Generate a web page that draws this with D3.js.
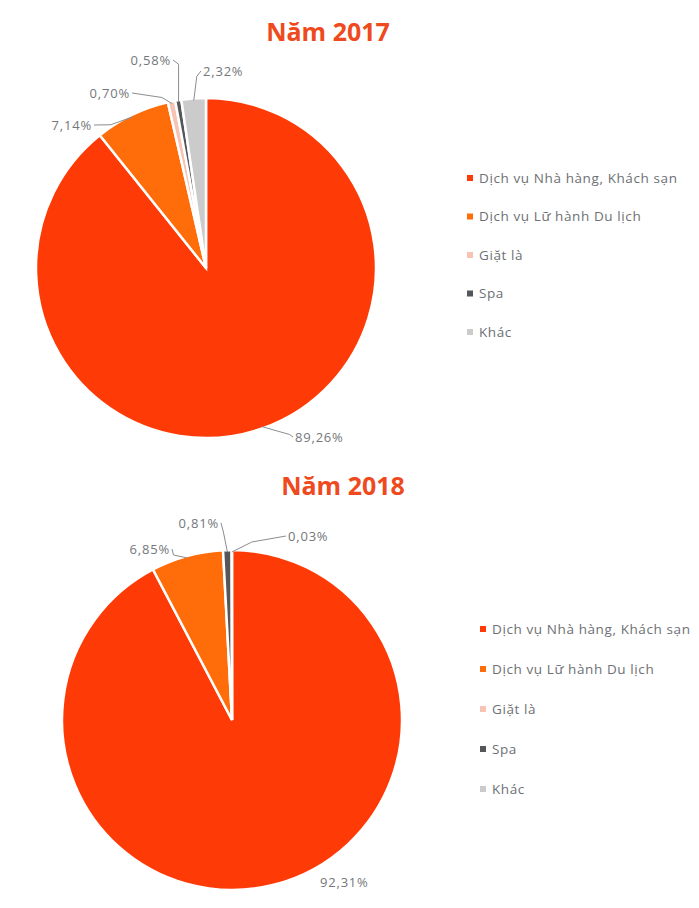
<!DOCTYPE html>
<html lang="vi">
<head>
<meta charset="UTF-8">
<title>Cơ cấu doanh thu</title>
<script src="https://cdn.jsdelivr.net/npm/d3@7"></script>
<style>
  body { margin: 0; background: #fff; }
  text { font-family: "Open Sans", sans-serif; }
</style>
</head>
<body>
<svg width="699" height="908" id="mainsvg" style="display:block"></svg>
<script>
const categories = ["Dịch vụ Nhà hàng, Khách sạn", "Dịch vụ Lữ hành Du lịch", "Giặt là", "Spa", "Khác"];
const values2017 = [89.26, 7.14, 0.70, 0.58, 2.32];
const values2018 = [92.31, 6.85, 0, 0.81, 0.03];
const titles = ["Năm 2017", "Năm 2018"];
const colors = ["#fe3a06", "#ff6c0a", "#f6c3b4", "#555659", "#cbcbcb"];

const svg = d3.select("#mainsvg");
const fmt = v => d3.format(".2f")(v).replace(".", ",") + "%";

// layout of each chart block
const charts = [
  {values: values2017, title: titles[0], cx: 206, cy: 268, r: 170, titleX: 328, titleY: 41,
   legendX: 470, legendY: 178, legendStep: 38.5,
   // label placement per slice: elbow offset from slice edge, text position, anchor
   labels: [
     {ex: 28, ey: 8, tx: 295, ty: 441, anchor: "start"},
     {ex: -22, ey: 8, tx: 92, ty: 129, anchor: "end"},
     {ex: -10, ey: -6, tx: 130, ty: 97, anchor: "end"},
     {ex: 0, ey: -38, tx: 171, ty: 64, anchor: "end"},
     {ex: 3, ey: -24, tx: 203, ty: 75, anchor: "start"}
   ]},
  {values: values2018, title: titles[1], cx: 232, cy: 720, r: 170, titleX: 343, titleY: 495,
   legendX: 483, legendY: 629, legendStep: 40,
   labels: [
     {ex: 0, ey: 0, tx: 320, ty: 886, anchor: "start"},
     {ex: -14, ey: -3, tx: 170, ty: 553, anchor: "end"},
     null,
     {ex: -4, ey: -20, tx: 219, ty: 527, anchor: "end"},
     {ex: 20, ey: -10, tx: 288, ty: 540, anchor: "start"}
   ]}
];

const pie = d3.pie().sort(null).value(d => d);

charts.forEach(c => {
  const g = svg.append("g").attr("transform", `translate(${c.cx},${c.cy})`);
  const arcs = pie(c.values);
  const arc = d3.arc().innerRadius(0).outerRadius(c.r);

  g.selectAll("path").data(arcs).join("path")
    .attr("d", arc)
    .attr("fill", (d, i) => colors[i])
    .attr("stroke", "#fff")
    .attr("stroke-width", d => d.value > 0 ? 2.5 : 0);

  // leader lines + labels
  arcs.forEach((d, i) => {
    const lab = c.labels[i];
    if (!lab || d.value <= 0) return;
    const mid = (d.startAngle + d.endAngle) / 2;
    const px = Math.sin(mid) * (c.r - 2);
    const py = -Math.cos(mid) * (c.r - 2);
    const ex = px + lab.ex, ey = py + lab.ey;
    const tx = lab.tx - c.cx, ty = lab.ty - c.cy - 4;
    const endX = lab.anchor === "end" ? tx + 2 : tx - 2;
    if (lab.ex !== 0 || lab.ey !== 0) {
      g.append("path")
        .attr("d", `M${px},${py}L${ex},${ey}L${endX},${ty}`)
        .attr("fill", "none")
        .attr("stroke", "#8a8d91")
        .attr("stroke-width", 1);
    }
    g.append("text")
      .attr("x", tx)
      .attr("y", ty + 4.5)
      .attr("text-anchor", lab.anchor)
      .attr("fill", "#74777b")
      .attr("font-size", 13)
      .attr("letter-spacing", 0.8)
      .text(fmt(d.value));
  });

  svg.append("text")
    .attr("x", c.titleX)
    .attr("y", c.titleY)
    .attr("text-anchor", "middle")
    .attr("fill", "#ee4a1d")
    .attr("font-size", 25)
    .attr("font-weight", "bold")
    .attr("font-family", "Lato, sans-serif")
    .text(c.title);

  const lg = svg.append("g").attr("transform", `translate(${c.legendX},${c.legendY})`);
  const items = lg.selectAll("g").data(categories).join("g")
    .attr("transform", (d, i) => `translate(0,${i * c.legendStep})`);
  items.append("rect")
    .attr("x", -3).attr("y", -3).attr("width", 6).attr("height", 6)
    .attr("fill", (d, i) => colors[i]);
  items.append("text")
    .attr("x", 9).attr("y", 4.5)
    .attr("fill", "#6d7074")
    .attr("font-size", 13.5)
    .attr("letter-spacing", 0.6)
    .text(d => d);
});
</script>
</body>
</html>
